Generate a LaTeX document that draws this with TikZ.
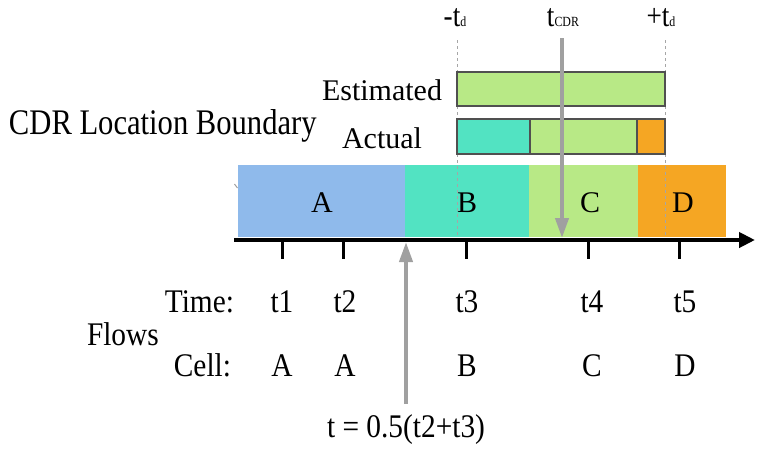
\documentclass[tikz,border=0pt]{standalone}
\usepackage{fontspec}
\setmainfont{Liberation Serif}
\newfontfamily\condwide[FakeStretch=0.85]{Liberation Serif}
\newfontfamily\condlow[FakeStretch=0.89]{Liberation Serif}
\usetikzlibrary{arrows.meta}
\definecolor{cA}{RGB}{143,186,235}
\definecolor{cB}{RGB}{82,227,194}
\definecolor{cC}{RGB}{184,233,134}
\definecolor{cD}{RGB}{245,166,35}
\definecolor{bordc}{RGB}{80,80,80}
\definecolor{arrowc}{RGB}{160,160,160}
\newcommand{\smallsub}[1]{{\fontsize{14}{14}\selectfont #1}}
\begin{document}
\begin{tikzpicture}[x=1pt,y=-1pt,
  cellbox/.style={draw=none, inner sep=0pt, outer sep=0pt, anchor=north west},
  bnd/.style={draw=bordc, line width=2pt, inner sep=0pt, outer sep=0pt, anchor=north west},
  lbl/.style={font=\fontsize{30}{32}\selectfont, inner sep=0pt, outer sep=0pt},
  toplbl/.style={font=\condwide\fontsize{32}{34}\selectfont, inner sep=0pt, outer sep=0pt},
  biglbl/.style={font=\condwide\fontsize{36}{38}\selectfont, inner sep=0pt, outer sep=0pt},
  lowlbl/.style={font=\condlow\fontsize{33}{35}\selectfont, inner sep=0pt, outer sep=0pt},
  guide/.style={draw=gray!70, dashed, line width=0.8pt},
  grayarrow/.style={draw=arrowc, line width=4pt, -{Triangle[length=20pt,width=13pt]}},
  tickmark/.style={draw=black, line width=3pt},
  axisline/.style={draw=black, line width=4.5pt, -{Triangle[length=16pt,width=15pt]}}
]
\useasboundingbox (0,0) rectangle (758,448);
% cells
\node[cellbox, fill=cA, minimum width=167pt, minimum height=72pt] (cellA) at (238,165) {};
\node[cellbox, fill=cB, minimum width=124pt, minimum height=72pt] (cellB) at (405,165) {};
\node[cellbox, fill=cC, minimum width=109pt, minimum height=72pt] (cellC) at (529,165) {};
\node[cellbox, fill=cD, minimum width=88pt, minimum height=72pt] (cellD) at (638,165) {};
\node[lbl] (lA) at (322,203) {A};
\node[lbl] (lB) at (467,203) {B};
\node[lbl] (lC) at (590,203) {C};
\node[lbl] (lD) at (683,203) {D};
% small artifact
\coordinate (art0) at (234.5,184);
\coordinate (art1) at (237.5,188);
\draw[arrowc, line width=1pt] (art0) -- (art1);
% guides
\coordinate (g1t) at (457,40);
\coordinate (g1b) at (457,237);
\coordinate (g2t) at (665,40);
\coordinate (g2b) at (665,237);
\draw[guide] (g1t) -- (g1b);
\draw[guide] (g2t) -- (g2b);
% estimated / actual
\node[bnd, fill=cC, minimum width=208pt, minimum height=34pt] (est) at (457,72) {};
\node[bnd, fill=cB, minimum width=73pt, minimum height=35pt] (act1) at (457,119) {};
\node[bnd, fill=cC, minimum width=107pt, minimum height=35pt] (act2) at (530,119) {};
\node[bnd, fill=cD, minimum width=28pt, minimum height=35pt] (act3) at (637,119) {};
\node[lbl, anchor=base east] (estl) at (442,100) {Estimated};
\node[lbl, anchor=base east] (actl) at (422,148) {Actual};
\node[biglbl, anchor=base west] (cdrl) at (9,134) {CDR Location Boundary};
% top labels
\node[toplbl, anchor=base] (mtd) at (455,26) {-t\smallsub{d}};
\node[toplbl, anchor=base] (tcdr) at (563,26) {t\smallsub{CDR}};
\node[toplbl, anchor=base] (ptd) at (661,26) {+t\smallsub{d}};
% axis
\coordinate (ax0) at (234,240);
\coordinate (ax1) at (755,240);
\draw[axisline] (ax0) -- (ax1);
\foreach \i/\x in {1/282,2/343,3/466,4/588,5/679}{
  \coordinate (k\i) at (\x,240);
  \coordinate (kb\i) at (\x,259);
  \draw[tickmark] (k\i) -- (kb\i);
}
% arrows
\coordinate (cdrTop) at (562,38);
\coordinate (cdrTip) at (562,238);
\draw[grayarrow] (cdrTop) -- (cdrTip);
\coordinate (midBot) at (406,404);
\coordinate (midTip) at (406,242);
\draw[grayarrow] (midBot) -- (midTip);
% bottom table
\node[lowlbl, anchor=base east] (timel) at (234,312) {Time:};
\node[lowlbl, anchor=base east] (celll) at (231,376) {Cell:};
\node[lowlbl, anchor=base west] (flowsl) at (87,345) {Flows};
\foreach \i/\x/\c in {1/282/A,2/345/A,3/467/B,4/592/C,5/685/D}{
  \node[lowlbl, anchor=base] (tt\i) at (\x,312) {t\i};
  \node[lowlbl, anchor=base] (cc\i) at (\x,376) {\c};
}
\node[lowlbl, anchor=base] (formula) at (406,437) {t = 0.5(t2+t3)};
\end{tikzpicture}
\end{document}
